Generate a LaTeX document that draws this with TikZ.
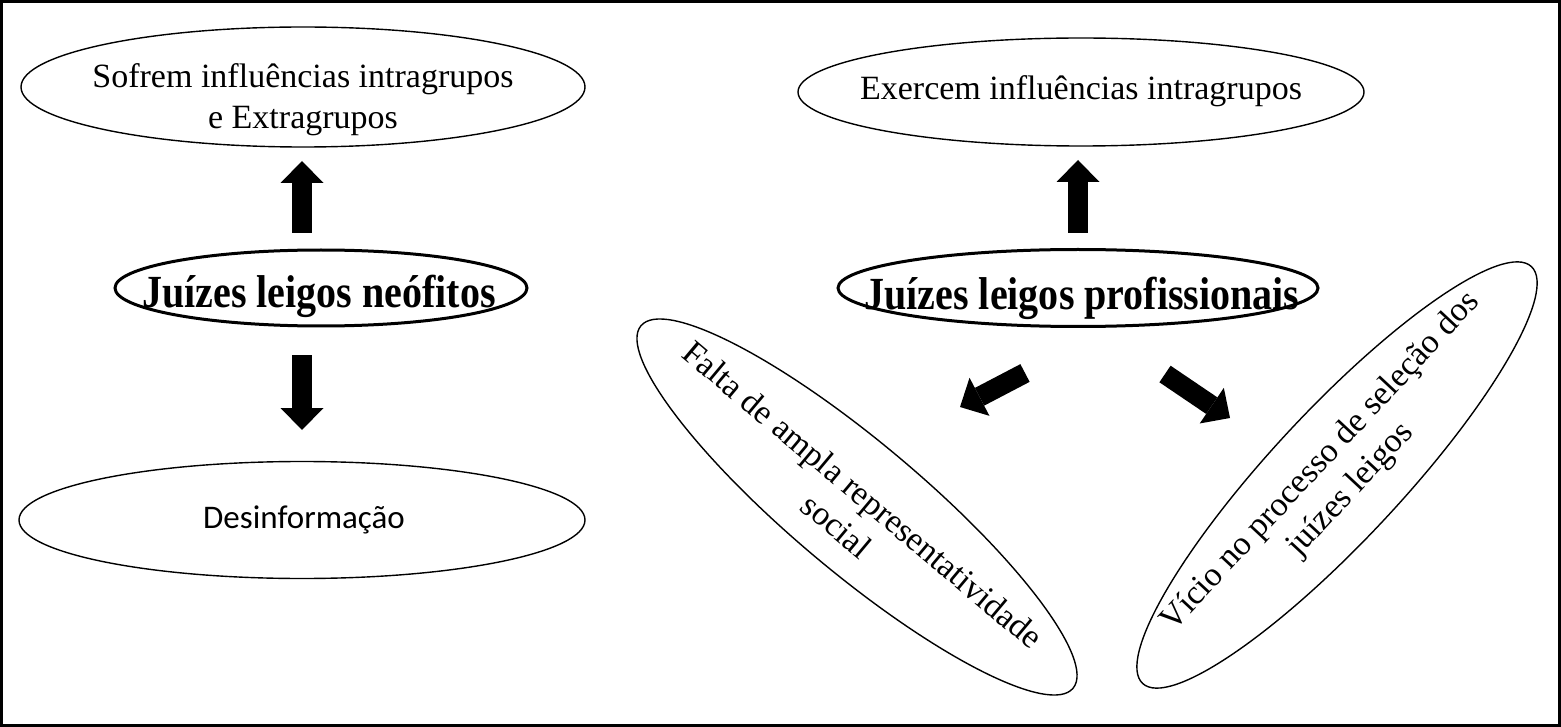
\documentclass[tikz,border=0pt]{standalone}
\usepackage{fontspec}
\usepackage{graphicx}
\setmainfont{Liberation Serif}
\newfontfamily\calibfont{Carlito}
\usetikzlibrary{shapes.geometric,arrows.meta}
\tikzset{
  oval/.style={draw, ellipse, line width=1.4pt, inner sep=0pt},
  boldoval/.style={draw, ellipse, line width=3pt, inner sep=0pt},
  txt/.style={font=\fontsize{34}{41}\selectfont, align=center, inner sep=0pt},
  boldtxt/.style={font=\fontsize{46}{50}\selectfont\bfseries, inner sep=0pt, anchor=base},
  bigarrow/.style={line width=20pt, -{Triangle[length=22pt,width=43pt,line width=0pt]}},
}
\begin{document}
\begin{tikzpicture}[x=1pt,y=-1pt]
\useasboundingbox (0,0) rectangle (1561,727);
\draw[line width=3pt] (1.5,1.5) rectangle (1559.5,725.5);

% left column
\node[oval, minimum width=564, minimum height=120] (sofO) at (303,87) {};
\node[txt] (sofT) at (303,100) {Sofrem influências intragrupos\\e Extragrupos};

\node[boldoval, minimum width=412, minimum height=76] (neoO) at (321,288) {};
\node[boldtxt] (neoT) at (319,308) {\scalebox{0.87}[1]{Juízes leigos neófitos}};

\node[oval, minimum width=566, minimum height=117] (desO) at (302,520) {};
\node[font=\calibfont\fontsize{33}{38}\selectfont, inner sep=0pt, anchor=base] (desT) at (304,528) {Desinformação};

\coordinate (a1s) at (302,233);
\coordinate (a1e) at (302,161);
\coordinate (a2s) at (302,355);
\coordinate (a2e) at (302,430);
\draw[bigarrow] (a1s) -- (a1e);
\draw[bigarrow] (a2s) -- (a2e);

% right column
\node[oval, minimum width=566, minimum height=108] (exeO) at (1081,92) {};
\node[txt, anchor=base] (exeT) at (1081,100) {Exercem influências intragrupos};

\node[boldoval, minimum width=480, minimum height=77] (proO) at (1078,288) {};
\node[boldtxt] (proT) at (1082,310) {\scalebox{0.87}[1]{Juízes leigos profissionais}};

\node[oval, minimum width=564, minimum height=130, rotate=-40] (falO) at (857,507) {};
\node[txt, rotate=-40] (falT) at (850,510) {Falta de ampla representatividade\\social};

\node[oval, minimum width=570, minimum height=130, rotate=47] (vicO) at (1337,475) {};
\node[txt, rotate=47] (vicT) at (1336,476) {Vício no processo de seleção dos\\juízes leigos};

\coordinate (a3s) at (1078,233);
\coordinate (a3e) at (1078,160);
\coordinate (a4s) at (1025,373);
\coordinate (a4e) at (960,407);
\coordinate (a5s) at (1165,374);
\coordinate (a5e) at (1230,418);
\draw[bigarrow] (a3s) -- (a3e);
\draw[bigarrow] (a4s) -- (a4e);
\draw[bigarrow] (a5s) -- (a5e);
\end{tikzpicture}
\end{document}
